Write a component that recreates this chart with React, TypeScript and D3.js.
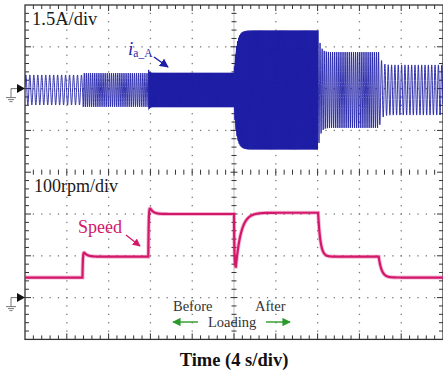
import { useEffect, useRef } from 'react';
import * as d3 from 'd3';

// Current trace (ia_A), one entry per operating segment
const curSegStart = [0, 5.55, 11.8, 20.0, 28.05, 33.9]; // s
const curSegAmp = [0.54, 0.61, 0.63, 2.18, 1.37, 0.9]; // A (peak)
const curSegPeriod = [0.38, 0.2, 0.1, 0.1, 0.2, 0.32]; // s
const curSegTau = [0, 0, 0, 0.25, 0.2, 0.2]; // envelope settling, s
const curSegKick = [0, 0, 0.17, 0, 0, 0]; // A, short spike at segment start
const curOffset = -0.05; // A

// Speed trace, one entry per step
const speedStepTime = [0, 5.5, 11.8, 20.0, 20.18, 28.05, 33.85]; // s
const speedStepRpm = [48, 98, 200, 72, 203, 98, 48];
const speedStepTau = [0, 0.04, 0.04, 0.04, 0.5, 0.22, 0.28]; // s
const speedStepOver = [0, 18, 26, 0, 0, 0, 0]; // rpm

const timeEnd = 40; // 10 div x 4 s/div
const ampPerDiv = 1.5;
const rpmPerDiv = 100;

const W = 443;
const H = 374;
const X0 = 25;
const Y0 = 5;
const DIV = 41.8;

const BLUE = '#1f1fa6';
const PINK = '#d3176b';
const GREEN = '#2b9a2b';

type Sample = { t: number; v: number; env: number; dense: boolean };

export default function App() {
    const ref = useRef<SVGSVGElement>(null);

    useEffect(() => {
        if (!ref.current) return;
        const svg = d3.select(ref.current);
        svg.selectAll('*').remove();

        const x = d3.scaleLinear().domain([0, timeEnd]).range([X0, X0 + 10 * DIV]);
        const gx = d3.scaleLinear().domain([0, 10]).range([X0, X0 + 10 * DIV]);
        const gy = d3.scaleLinear().domain([0, 8]).range([Y0, Y0 + 8 * DIV]);
        // ch1 ground on grid row 2, ch2 ground on grid row 7
        const yI = d3.scaleLinear().domain([0, ampPerDiv]).range([gy(2), gy(1)]);
        const yS = d3.scaleLinear().domain([0, rpmPerDiv]).range([gy(7), gy(6)]);

        svg.append('rect').attr('width', W).attr('height', H).attr('fill', '#fff');

        const defs = svg.append('defs');
        defs.append('clipPath').attr('id', 'scr')
            .append('rect')
            .attr('x', gx(0)).attr('y', gy(0))
            .attr('width', gx(10) - gx(0)).attr('height', gy(8) - gy(0));
        const marker = (id: string, color: string) => {
            defs.append('marker')
                .attr('id', id)
                .attr('viewBox', '0 0 10 10')
                .attr('refX', 9).attr('refY', 5)
                .attr('markerWidth', 6).attr('markerHeight', 6)
                .attr('orient', 'auto')
                .append('path').attr('d', 'M0,0L10,5L0,10Z').attr('fill', color);
        };
        marker('mBlue', BLUE);
        marker('mPink', PINK);
        marker('mGreen', GREEN);

        // ---- graticule ----
        const g = svg.append('g');
        const minor = DIV / 5;
        // dotted grid lines
        for (let k = 1; k < 10; k++) {
            if (k === 5) continue;
            for (let j = 1; j < 40; j++) {
                g.append('rect').attr('x', gx(k) - 0.6).attr('y', gy(0) + j * minor - 0.6)
                    .attr('width', 1.3).attr('height', 1.3).attr('fill', '#7a7a7a');
            }
        }
        for (let k = 1; k < 8; k++) {
            if (k === 4) continue;
            for (let j = 1; j < 50; j++) {
                g.append('rect').attr('x', gx(0) + j * minor - 0.6).attr('y', gy(k) - 0.6)
                    .attr('width', 1.3).attr('height', 1.3).attr('fill', '#7a7a7a');
            }
        }
        // centre cross
        g.append('line').attr('x1', gx(5)).attr('x2', gx(5)).attr('y1', gy(0)).attr('y2', gy(8))
            .attr('stroke', '#999').attr('stroke-width', 0.6);
        for (let j = 1; j < 40; j++) {
            const yy = gy(0) + j * minor;
            const len = j % 5 === 0 ? 3.5 : 2.5;
            g.append('line').attr('x1', gx(5) - len).attr('x2', gx(5) + len).attr('y1', yy).attr('y2', yy)
                .attr('stroke', '#333').attr('stroke-width', 1);
        }
        for (let j = 1; j < 50; j++) {
            const xx = gx(0) + j * minor;
            const len = j % 5 === 0 ? 3.5 : 2.5;
            g.append('line').attr('x1', xx).attr('x2', xx).attr('y1', gy(4) - len).attr('y2', gy(4) + len)
                .attr('stroke', '#333').attr('stroke-width', 1);
        }
        // frame with inward ticks
        g.append('rect').attr('x', gx(0)).attr('y', gy(0))
            .attr('width', gx(10) - gx(0)).attr('height', gy(8) - gy(0))
            .attr('fill', 'none').attr('stroke', '#333').attr('stroke-width', 1.3);
        for (let j = 1; j < 50; j++) {
            const xx = gx(0) + j * minor;
            const len = j % 5 === 0 ? 6 : 4;
            g.append('line').attr('x1', xx).attr('x2', xx).attr('y1', gy(0)).attr('y2', gy(0) + len)
                .attr('stroke', '#333').attr('stroke-width', 1);
            g.append('line').attr('x1', xx).attr('x2', xx).attr('y1', gy(8)).attr('y2', gy(8) - len)
                .attr('stroke', '#333').attr('stroke-width', 1);
        }
        for (let j = 1; j < 40; j++) {
            const yy = gy(0) + j * minor;
            const len = j % 5 === 0 ? 6 : 4;
            g.append('line').attr('x1', gx(0)).attr('x2', gx(0) + len).attr('y1', yy).attr('y2', yy)
                .attr('stroke', '#333').attr('stroke-width', 1);
            g.append('line').attr('x1', gx(10)).attr('x2', gx(10) - len).attr('y1', yy).attr('y2', yy)
                .attr('stroke', '#333').attr('stroke-width', 1);
        }

        // ---- traces ----
        const dt = 0.01;
        const curPts: Sample[] = [];
        let phase = 0;
        for (let t = 0; t <= timeEnd; t += dt) {
            let i = 0;
            while (i + 1 < curSegStart.length && t >= curSegStart[i + 1]) i++;
            const t0 = curSegStart[i];
            const A = curSegAmp[i];
            const prev = i > 0 ? curSegAmp[i - 1] : A;
            const tau = curSegTau[i];
            let env = tau > 0 ? A + (prev - A) * Math.exp(-(t - t0) / tau) : A;
            env += curSegKick[i] * Math.exp(-(t - t0) / 0.08);
            phase += (2 * Math.PI * dt) / curSegPeriod[i];
            curPts.push({ t, v: env * Math.sin(phase) + curOffset, env, dense: curSegPeriod[i] <= 0.1 });
        }

        const spdPts: [number, number][] = [];
        let step = 0;
        let v0 = speedStepRpm[0];
        let last = v0;
        for (let t = 0; t <= timeEnd; t += dt) {
            while (step + 1 < speedStepTime.length && t >= speedStepTime[step + 1]) {
                step++;
                v0 = last;
            }
            const L = speedStepRpm[step];
            const tau = speedStepTau[step];
            const d = t - speedStepTime[step];
            let v = tau > 0 ? L + (v0 - L) * Math.exp(-d / tau) : L;
            if (speedStepOver[step] > 0) {
                v += speedStepOver[step] * (1 - Math.exp(-d / tau)) * Math.exp(-d / 0.3);
            }
            last = v;
            spdPts.push([t, v]);
        }

        const traces = svg.append('g').attr('clip-path', 'url(#scr)');
        // densely packed cycles read as a solid band on the screen
        traces.append('path')
            .attr('d', d3.area<Sample>()
                .defined(d => d.dense)
                .x(d => x(d.t))
                .y0(d => yI(curOffset - d.env * 0.97))
                .y1(d => yI(curOffset + d.env * 0.97))(curPts) || '')
            .attr('fill', BLUE);
        traces.append('path')
            .attr('d', d3.line<Sample>().x(d => x(d.t)).y(d => yI(d.v))(curPts) || '')
            .attr('fill', 'none').attr('stroke', BLUE).attr('stroke-width', 0.9);
        const spdLine = d3.line<[number, number]>().x(d => x(d[0])).y(d => yS(d[1]));
        traces.append('path').attr('d', spdLine(spdPts) || '')
            .attr('fill', 'none').attr('stroke', PINK).attr('stroke-width', 4).attr('opacity', 0.3);
        traces.append('path').attr('d', spdLine(spdPts) || '')
            .attr('fill', 'none').attr('stroke', PINK).attr('stroke-width', 2.2);

        // ---- ground markers ----
        [yI(0), yS(0)].forEach(yy => {
            svg.append('path')
                .attr('d', `M${X0 - 8},${yy - 4.5}L${X0},${yy}L${X0 - 8},${yy + 4.5}Z`)
                .attr('fill', '#111');
            svg.append('path')
                .attr('d', `M${X0 - 8},${yy}H${X0 - 14}V${yy + 9}M${X0 - 19},${yy + 9}H${X0 - 9}M${X0 - 17},${yy + 11}H${X0 - 11}M${X0 - 15.5},${yy + 13}H${X0 - 12.5}`)
                .attr('fill', 'none').attr('stroke', '#555').attr('stroke-width', 0.8);
        });

        // ---- labels ----
        const serif = '"Liberation Serif", "Times New Roman", serif';
        svg.append('text').attr('x', 32).attr('y', 25)
            .attr('font-family', serif).attr('font-size', 18.5).attr('fill', '#1a1a1a')
            .text(`${ampPerDiv}A/div`);
        svg.append('text').attr('x', 34).attr('y', 192)
            .attr('font-family', serif).attr('font-size', 18).attr('fill', '#1a1a1a')
            .text(`${rpmPerDiv}rpm/div`);

        const iLab = svg.append('text').attr('x', 128).attr('y', 55)
            .attr('font-family', serif).attr('fill', BLUE);
        iLab.append('tspan').attr('font-style', 'italic').attr('font-size', 19).text('i');
        iLab.append('tspan').attr('font-size', 11.5).attr('dy', 2).text('a_A');
        svg.append('line').attr('x1', 154).attr('y1', 57).attr('x2', 168).attr('y2', 67)
            .attr('stroke', BLUE).attr('stroke-width', 1.5).attr('marker-end', 'url(#mBlue)');

        svg.append('text').attr('x', 78).attr('y', 233)
            .attr('font-family', serif).attr('font-size', 18).attr('fill', PINK)
            .text('Speed');
        svg.append('line').attr('x1', 126).attr('y1', 235).attr('x2', 140).attr('y2', 246)
            .attr('stroke', PINK).attr('stroke-width', 1.3).attr('marker-end', 'url(#mPink)');

        svg.append('text').attr('x', 173).attr('y', 311)
            .attr('font-family', serif).attr('font-size', 14.5).attr('fill', '#333').text('Before');
        svg.append('text').attr('x', 255).attr('y', 311)
            .attr('font-family', serif).attr('font-size', 14.5).attr('fill', '#333').text('After');
        svg.append('text').attr('x', 208).attr('y', 327)
            .attr('font-family', serif).attr('font-size', 14.5).attr('fill', '#333').text('Loading');
        svg.append('line').attr('x1', 198).attr('y1', 322).attr('x2', 173).attr('y2', 322)
            .attr('stroke', GREEN).attr('stroke-width', 1.4).attr('marker-end', 'url(#mGreen)');
        svg.append('line').attr('x1', 266).attr('y1', 322).attr('x2', 290).attr('y2', 322)
            .attr('stroke', GREEN).attr('stroke-width', 1.4).attr('marker-end', 'url(#mGreen)');

        svg.append('text').attr('x', 234).attr('y', 366).attr('text-anchor', 'middle')
            .attr('font-family', serif).attr('font-size', 18.5).attr('font-weight', 'bold').attr('fill', '#111')
            .text('Time (4 s/div)');
    }, []);

    return (
        <svg
            ref={ref}
            width={W}
            height={H}
            style={{ position: 'absolute', left: 0, top: 0, display: 'block' }}
        />
    );
}
